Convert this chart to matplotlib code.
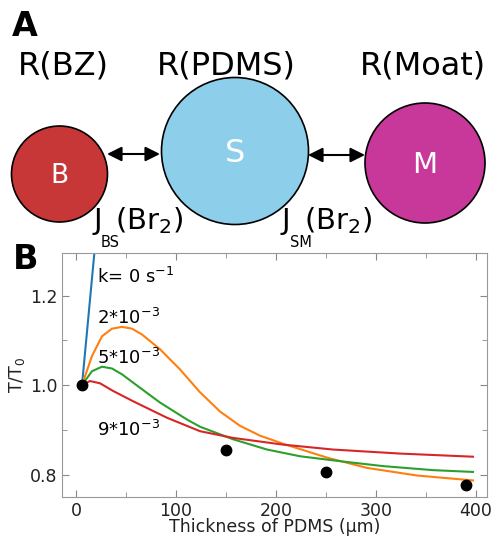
import matplotlib
matplotlib.use("Agg")
import matplotlib.pyplot as plt
from matplotlib.patches import Circle
from matplotlib.ticker import MultipleLocator

plt.rcParams['font.family'] = ['DejaVu Sans']
plt.rcParams['mathtext.default'] = 'regular'

# --- panel A: compartments ---
node_labels = ["B", "S", "M"]
node_titles = ["R(BZ)", "R(PDMS)", "R(Moat)"]
node_colors = ["#c83737", "#8dcfeb", "#c8379a"]
flux_subs = ["BS", "SM"]

# --- panel B: T/T0 vs PDMS thickness ---
x_k0 = [6, 20]
y_k0 = [1.0, 1.334]

x_k2 = [6, 16, 26, 36, 46, 56, 66, 84, 104, 124, 144, 164, 184, 207, 251, 291, 341, 397]
y_k2 = [1.0, 1.065, 1.109, 1.126, 1.130, 1.126, 1.113, 1.080, 1.035, 0.984, 0.941,
        0.909, 0.887, 0.869, 0.838, 0.815, 0.798, 0.787]

x_k5 = [6, 16, 26, 36, 46, 64, 84, 111, 124, 157, 191, 224, 264, 307, 357, 397]
y_k5 = [1.0, 1.031, 1.041, 1.037, 1.024, 0.994, 0.961, 0.923, 0.907, 0.879, 0.856,
        0.841, 0.830, 0.819, 0.810, 0.806]

x_k9 = [6, 14, 24, 37, 57, 91, 124, 157, 207, 257, 324, 397]
y_k9 = [1.0, 1.009, 1.004, 0.987, 0.964, 0.927, 0.897, 0.882, 0.867, 0.856, 0.847, 0.840]

x_exp = [6, 150, 250, 390]
y_exp = [1.0, 0.855, 0.806, 0.777]

curve_labels = ["k= 0 s$^{-1}$", "2*10$^{-3}$", "5*10$^{-3}$", "9*10$^{-3}$"]
label_y = [1.229, 1.136, 1.046, 0.886]

fig = plt.figure(figsize=(4.92, 5.37), dpi=100)

# diagram in pixel coordinates
axd = fig.add_axes([0, 0, 1, 1])
axd.set_xlim(0, 492)
axd.set_ylim(537, 0)
axd.axis('off')

centers = [(59.5, 174), (235, 151), (425, 163)]
radii = [48, 73.5, 60]
letter_sizes = [19, 23, 21]
for (cx, cy), r, c, lab, fs in zip(centers, radii, node_colors, node_labels, letter_sizes):
    axd.add_patch(Circle((cx, cy), r, facecolor=c, edgecolor='black', lw=1.2))
    axd.text(cx, cy + 2, lab, color='white', fontsize=fs, ha='center', va='center')

for x, t in zip([63.5, 226.5, 422.5], node_titles):
    axd.text(x, 66, t, fontsize=23, ha='center', va='center')

arrow_kw = dict(arrowstyle='<|-|>', color='black', lw=1.5, mutation_scale=22,
                shrinkA=0, shrinkB=0)
axd.annotate('', xy=(160, 154), xytext=(107, 154), arrowprops=arrow_kw)
axd.annotate('', xy=(365, 155), xytext=(308, 155), arrowprops=arrow_kw)

# flux labels: J, low subscript, then (Br2)
for x0, sub in zip([93, 282], flux_subs):
    axd.text(x0, 229, "J", fontsize=21, ha='left', va='baseline')
    axd.text(x0 + 8, 247, sub, fontsize=10.5, ha='left', va='baseline')
    axd.text(x0 + 22, 229, "(Br$_2$)", fontsize=21, ha='left', va='baseline')

axd.text(12, 36, "A", fontsize=24, fontweight='bold', ha='left', va='baseline')
axd.text(13, 269, "B", fontsize=24, fontweight='bold', ha='left', va='baseline')

# line chart
ax = fig.add_axes([62 / 492, 40 / 537, 425 / 492, 244 / 537])
ax.plot(x_k0, y_k0, color='#1f77b4', lw=1.5)
ax.plot(x_k2, y_k2, color='#ff7f0e', lw=1.5)
ax.plot(x_k5, y_k5, color='#2ca02c', lw=1.5)
ax.plot(x_k9, y_k9, color='#d62728', lw=1.5)
ax.plot(x_exp, y_exp, 'o', color='black', ms=7.5, zorder=5)

for lab, y in zip(curve_labels, label_y):
    ax.text(21, y, lab, fontsize=13, ha='left', va='baseline')

ax.set_xlim(-14, 411)
ax.set_ylim(0.75, 1.295)
ax.xaxis.set_major_locator(MultipleLocator(100))
ax.xaxis.set_minor_locator(MultipleLocator(50))
ax.yaxis.set_major_locator(MultipleLocator(0.2))
ax.yaxis.set_minor_locator(MultipleLocator(0.1))
ax.tick_params(which='both', direction='in', top=True, right=True, color='#888888',
               labelsize=12.5, labelcolor='#222222')
ax.tick_params(which='major', length=5)
ax.tick_params(which='minor', length=3.5)
for s in ax.spines.values():
    s.set_color('#999999')
ax.set_xlabel("Thickness of PDMS (μm)", fontsize=12.5, color='#222222', labelpad=-1)
ax.set_ylabel("T/T$_0$", fontsize=12.5, color='#222222', labelpad=2)

fig.savefig("out.png", dpi=100)
